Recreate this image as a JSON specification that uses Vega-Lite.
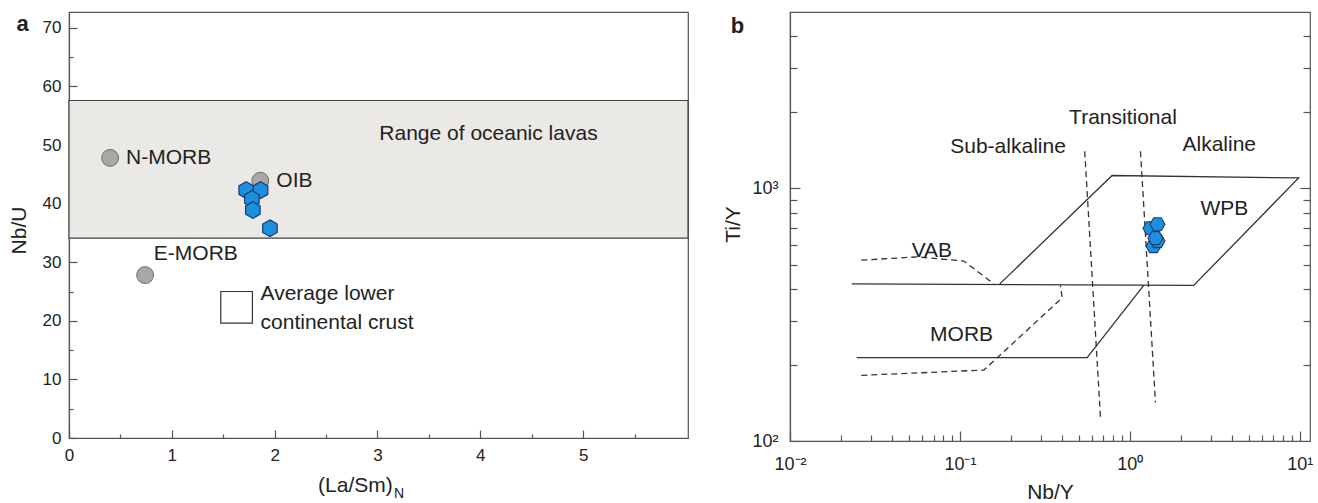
{
 "$schema": "https://vega.github.io/schema/vega-lite/v6.json",
 "padding": {"left": 7, "top": 11, "right": 0, "bottom": 0},
 "spacing": 31,
 "config": {
  "font": "Liberation Sans",
  "view": {"stroke": "#555", "strokeWidth": 1.2},
  "axis": {"grid": false, "domainColor": "#555", "domainWidth": 1.2, "tickColor": "#555", "tickWidth": 1.2, "labelColor": "#222", "titleColor": "#222", "labelFont": "Liberation Sans", "titleFont": "Liberation Sans", "titleFontWeight": "normal", "labelOverlap": false, "labelFlush": false},
  "text": {"font": "Liberation Sans", "color": "#222"}
 },
 "datasets": {
  "refA": [{"x": 0.40, "y": 47.8}, {"x": 1.86, "y": 43.9}, {"x": 0.74, "y": 27.8}],
  "lccA": [{"x": 1.63, "y": 22.3}],
  "hexA": [{"x": 1.723, "y": 42.3}, {"x": 1.863, "y": 42.3}, {"x": 1.779, "y": 40.8}, {"x": 1.788, "y": 38.9}, {"x": 1.954, "y": 35.8}],
  "labA": [
   {"t": "N-MORB", "x": 0.555, "y": 47.8},
   {"t": "OIB", "x": 2.016, "y": 43.9},
   {"t": "E-MORB", "x": 0.825, "y": 31.4},
   {"t": "Average lower", "x": 1.863, "y": 24.5},
   {"t": "continental crust", "x": 1.863, "y": 19.7},
   {"t": "Range of oceanic lavas", "x": 3.018, "y": 51.9},
   {"t": "(La/Sm)", "x": 2.422, "y": -8.2}
  ],
  "subA": [{"t": "N", "x": 3.16, "y": -9.6}],
  "panA": [{"t": "a", "x": -0.451, "y": 70.6}],
  "solidB": [
   {"id": "wpb", "o": 1, "x": 0.0231, "y": 419},
   {"id": "wpb", "o": 2, "x": 2.378, "y": 413},
   {"id": "wpb", "o": 3, "x": 9.86, "y": 1101},
   {"id": "wpb", "o": 4, "x": 0.787, "y": 1126},
   {"id": "wpb", "o": 5, "x": 0.1717, "y": 419},
   {"id": "morb", "o": 1, "x": 0.0247, "y": 214},
   {"id": "morb", "o": 2, "x": 0.561, "y": 214},
   {"id": "morb", "o": 3, "x": 1.208, "y": 413}
  ],
  "dashB": [
   {"id": "vab", "o": 1, "x": 0.0263, "y": 520},
   {"id": "vab", "o": 2, "x": 0.0561, "y": 536},
   {"id": "vab", "o": 3, "x": 0.1055, "y": 516},
   {"id": "vab", "o": 4, "x": 0.1585, "y": 419},
   {"id": "low", "o": 1, "x": 0.0263, "y": 182},
   {"id": "low", "o": 2, "x": 0.1384, "y": 191},
   {"id": "low", "o": 3, "x": 0.400, "y": 369},
   {"id": "low", "o": 4, "x": 0.391, "y": 413},
   {"id": "d1", "o": 1, "x": 0.543, "y": 1405},
   {"id": "d1", "o": 2, "x": 0.673, "y": 122},
   {"id": "d2", "o": 1, "x": 1.156, "y": 1405},
   {"id": "d2", "o": 2, "x": 1.416, "y": 142}
  ],
  "hexB": [{"x": 1.324, "y": 696}, {"x": 1.455, "y": 722}, {"x": 1.378, "y": 591}, {"x": 1.455, "y": 619}, {"x": 1.416, "y": 636}],
  "labB": [
   {"t": "Sub-alkaline", "x": 0.192, "y": 1466},
   {"t": "Transitional", "x": 0.912, "y": 1903},
   {"t": "Alkaline", "x": 3.361, "y": 1484},
   {"t": "WPB", "x": 3.606, "y": 826},
   {"t": "VAB", "x": 0.0684, "y": 565},
   {"t": "MORB", "x": 0.1023, "y": 262}
  ],
  "panB": [{"t": "b", "x": 0.0049, "y": 4387}]
 },
 "hconcat": [
  {
   "width": 619,
   "height": 426,
   "resolve": {"axis": {"x": "independent", "y": "independent"}},
   "layer": [
    {
     "data": {"values": [{"x1": 0, "x2": 6.02, "y1": 34.1, "y2": 57.6}]},
     "mark": {"type": "rect", "fill": "#ebe9e5", "stroke": "#444", "strokeWidth": 1.2},
     "encoding": {
      "x": {"field": "x1", "type": "quantitative", "scale": {"domain": [0, 6.02], "nice": false, "zero": false},
            "axis": {"orient": "bottom", "values": [0, 1, 2, 3, 4, 5], "tickSize": -8, "labelPadding": 17, "labelFontSize": 17, "title": null}},
      "x2": {"field": "x2"},
      "y": {"field": "y1", "type": "quantitative", "scale": {"domain": [0, 72.7], "nice": false, "zero": false},
            "axis": {"orient": "left", "values": [0, 10, 20, 30, 40, 50, 60, 70], "tickSize": -8, "labelPadding": 16, "labelFontSize": 17, "title": "Nb/U", "titleFontSize": 21, "titleX": -50, "titleY": 218, "titleBaseline": "middle", "titleAngle": 270}},
      "y2": {"field": "y2"}
     }
    },
    {
     "data": {"name": "refA"},
     "mark": {"type": "point", "shape": "circle", "filled": true, "size": 285, "fill": "#a8a8a8", "stroke": "#6e6e6e", "strokeWidth": 1, "opacity": 1},
     "encoding": {
      "x": {"field": "x", "type": "quantitative", "axis": {"orient": "bottom", "values": [0.5, 1.5, 2.5, 3.5, 4.5, 5.5], "labels": false, "domain": false, "tickSize": -4, "title": null}},
      "y": {"field": "y", "type": "quantitative", "axis": {"orient": "left", "values": [5, 15, 25, 35, 45, 55, 65], "labels": false, "domain": false, "tickSize": -4, "title": null}}
     }
    },
    {
     "data": {"name": "lccA"},
     "mark": {"type": "point", "shape": "square", "filled": true, "size": 1000, "fill": "#ffffff", "stroke": "#333", "strokeWidth": 1.2, "opacity": 1},
     "encoding": {
      "x": {"field": "x", "type": "quantitative", "axis": null},
      "y": {"field": "y", "type": "quantitative", "axis": null}
     }
    },
    {
     "data": {"name": "hexA"},
     "mark": {"type": "point", "shape": "M0,-1L0.866,-0.5L0.866,0.5L0,1L-0.866,0.5L-0.866,-0.5Z", "filled": true, "size": 280, "fill": "#1c8fdf", "stroke": "#1a3d6e", "strokeWidth": 1.2, "opacity": 1},
     "encoding": {
      "x": {"field": "x", "type": "quantitative", "axis": null},
      "y": {"field": "y", "type": "quantitative", "axis": null}
     }
    },
    {
     "data": {"name": "labA"},
     "mark": {"type": "text", "align": "left", "baseline": "middle", "fontSize": 21},
     "encoding": {
      "x": {"field": "x", "type": "quantitative", "axis": null},
      "y": {"field": "y", "type": "quantitative", "axis": null},
      "text": {"field": "t"}
     }
    },
    {
     "data": {"name": "subA"},
     "mark": {"type": "text", "align": "left", "baseline": "middle", "fontSize": 14},
     "encoding": {
      "x": {"field": "x", "type": "quantitative", "axis": null},
      "y": {"field": "y", "type": "quantitative", "axis": null},
      "text": {"field": "t"}
     }
    },
    {
     "data": {"name": "panA"},
     "mark": {"type": "text", "align": "center", "baseline": "middle", "fontSize": 22, "fontWeight": "bold"},
     "encoding": {
      "x": {"field": "x", "type": "quantitative", "axis": null},
      "y": {"field": "y", "type": "quantitative", "axis": null},
      "text": {"field": "t"}
     }
    }
   ]
  },
  {
   "width": 520,
   "height": 429,
   "resolve": {"axis": {"x": "independent", "y": "independent"}},
   "layer": [
    {
     "data": {"name": "solidB"},
     "mark": {"type": "line", "color": "#333", "strokeWidth": 1.3},
     "encoding": {
      "x": {"field": "x", "type": "quantitative", "scale": {"type": "log", "domain": [0.01, 11.5], "nice": false},
            "axis": {"orient": "bottom", "values": [0.01, 0.1, 1, 10], "labelExpr": "datum.value == 0.01 ? '10⁻²' : datum.value == 0.1 ? '10⁻¹' : datum.value == 1 ? '10⁰' : '10¹'", "tickSize": -10, "labelPadding": 24, "labelFontSize": 18, "title": "Nb/Y", "titleFontSize": 21, "titleY": 51, "titleBaseline": "middle"}},
      "y": {"field": "y", "type": "quantitative", "scale": {"type": "log", "domain": [100, 5000], "nice": false},
            "axis": {"orient": "left", "values": [100, 1000], "labelExpr": "datum.value == 100 ? '10²' : '10³'", "tickSize": -10, "labelPadding": 22, "labelFontSize": 18, "title": "Ti/Y", "titleFontSize": 21, "titleX": -57, "titleY": 212, "titleBaseline": "middle", "titleAngle": 270}},
      "detail": {"field": "id"},
      "order": {"field": "o"}
     }
    },
    {
     "data": {"name": "dashB"},
     "mark": {"type": "line", "color": "#333", "strokeWidth": 1.3, "strokeDash": [6, 4]},
     "encoding": {
      "x": {"field": "x", "type": "quantitative", "axis": {"orient": "bottom", "values": [0.02, 0.03, 0.04, 0.05, 0.06, 0.07, 0.08, 0.09, 0.2, 0.3, 0.4, 0.5, 0.6, 0.7, 0.8, 0.9, 2, 3, 4, 5, 6, 7, 8, 9], "labels": false, "domain": false, "tickSize": -6, "title": null}},
      "y": {"field": "y", "type": "quantitative", "axis": {"orient": "left", "values": [200, 300, 400, 500, 600, 700, 800, 900, 2000, 3000, 4000], "labels": false, "domain": false, "tickSize": -7, "title": null}},
      "detail": {"field": "id"},
      "order": {"field": "o"}
     }
    },
    {
     "data": {"name": "hexB"},
     "mark": {"type": "point", "shape": "M-1,0L-0.5,-0.866L0.5,-0.866L1,0L0.5,0.866L-0.5,0.866Z", "filled": true, "size": 225, "fill": "#1c8fdf", "stroke": "#1a3d6e", "strokeWidth": 1.1, "opacity": 1},
     "encoding": {
      "x": {"field": "x", "type": "quantitative", "axis": null},
      "y": {"field": "y", "type": "quantitative", "axis": {"orient": "right", "values": [1000], "labels": false, "domain": false, "tickSize": -10, "title": null}}
     }
    },
    {
     "data": {"name": "labB"},
     "mark": {"type": "text", "align": "center", "baseline": "middle", "fontSize": 21},
     "encoding": {
      "x": {"field": "x", "type": "quantitative", "axis": null},
      "y": {"field": "y", "type": "quantitative", "axis": {"orient": "right", "values": [200, 300, 400, 500, 600, 700, 800, 900, 2000, 3000, 4000], "labels": false, "domain": false, "tickSize": -7, "title": null}},
      "text": {"field": "t"}
     }
    },
    {
     "data": {"name": "panB"},
     "mark": {"type": "text", "align": "center", "baseline": "middle", "fontSize": 22, "fontWeight": "bold"},
     "encoding": {
      "x": {"field": "x", "type": "quantitative", "axis": null},
      "y": {"field": "y", "type": "quantitative", "axis": null},
      "text": {"field": "t"}
     }
    }
   ]
  }
 ]
}
